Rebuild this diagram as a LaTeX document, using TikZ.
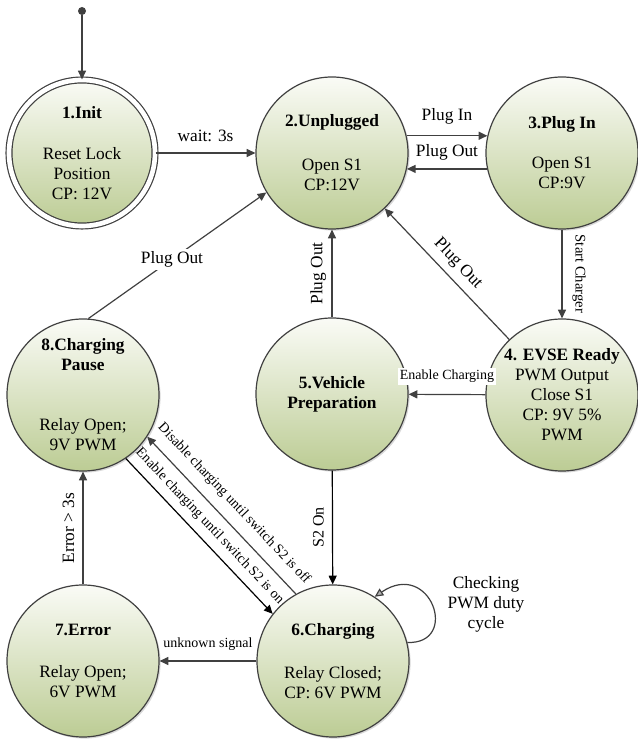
\documentclass[tikz,border=0pt]{standalone}
\usepackage{fontspec}
\setmainfont{Liberation Serif}
\usepackage{tikz}
\usetikzlibrary{arrows.meta,shadows}

\definecolor{stTop}{RGB}{250,251,246}
\definecolor{stBot}{RGB}{188,204,148}
\definecolor{lnGray}{RGB}{64,64,64}

\begin{document}
\begin{tikzpicture}[x=0.75pt, y=0.75pt,
    state/.style = {circle, draw=lnGray, line width=0.9pt, minimum size=114pt, inner sep=0pt,
                    top color=stTop, bottom color=stBot, align=center,
                    drop shadow={shadow xshift=1.2pt, shadow yshift=-1.2pt, opacity=0.3},
                    font=\fontsize{13}{15}\selectfont},
    tr/.style  = {draw=lnGray, line width=0.9pt, -{Triangle[length=6.5pt, width=6pt]}},
    trk/.style = {draw=black, line width=0.9pt, -{Triangle[length=6.5pt, width=6pt]}},
    lbl/.style = {font=\fontsize{13}{15}\selectfont, inner sep=2pt},
    sml/.style = {font=\fontsize{10.5}{12}\selectfont, inner sep=1.5pt}]
        \useasboundingbox (0,0) rectangle (637,743);

        % states
        \node[circle, fill=lnGray, minimum size=6pt, inner sep=0pt] (start) at (82,732) {};
        \node[state, minimum size=109.5pt, double, double distance=3.5pt] (n1) at (82,590)
            {\textbf{1.Init}\\[16pt]Reset Lock\\Position\\CP: 12V};
        \node[state] (n2) at (332,590) {\textbf{2.Unplugged}\\[18pt]Open S1\\CP:12V};
        \node[state] (n3) at (562,590) {\textbf{3.Plug In}\\[15pt]Open S1\\CP:9V};
        \node[state] (n4) at (562,348)
            {\textbf{4. EVSE Ready}\\PWM Output\\Close S1\\CP: 9V 5\%\\PWM};
        \node[state] (n5) at (332,349) {\textbf{5.Vehicle}\\\textbf{Preparation}};
        \node[state] (n8) at (83,348)
            {\textbf{8.Charging}\\\textbf{Pause}\\[30pt]Relay Open;\\9V PWM};
        \node[state] (n7) at (83,82) {\textbf{7.Error}\\[17pt]Relay Open;\\6V PWM};
        \node[state] (n6) at (333,82) {\textbf{6.Charging}\\[17pt]Relay Closed;\\CP: 6V PWM};

        % transitions
        \draw[tr] (start) -- (n1);
        \draw[tr] (n1) -- node[lbl, above=6pt] {wait: 3s} (n2);
        \draw[tr] (n2.13) -- node[lbl, above=6pt] {Plug In} (n3.167);
        \draw[tr] (n3.192) -- node[lbl, above=4pt] {Plug Out} (n2.-12);
        \draw[tr] (n3) -- node[sloped, above=4pt, font=\fontsize{11}{13}\selectfont] {Start Charger} (n4);
        \draw[tr] (n4) -- node[lbl, sloped, above=3pt] {Plug Out} (n2);
        \draw[tr] (n4) -- node[sml, above=7pt, fill=white] {Enable Charging} (n5);
        \draw[tr] (n5) -- node[lbl, sloped, above=2pt] {Plug Out} (n2);
        \draw[tr] (n8.86) -- node[lbl, pos=0.47, fill=white] {Plug Out} (n2.211);
        \draw[trk] (n5) -- node[rotate=90, anchor=south, inner sep=6pt, font=\fontsize{12}{14}\selectfont] {S2 On} (n6);
        \draw[trk] (n8.-56) -- node[sml, sloped, above=4pt] {Enable charging until switch S2 is on} (n6.142);
        \draw[tr] (n6.119) -- node[sml, sloped, above=6pt] {Disable charging until switch S2 is off} (n8.-33);
        \draw[tr] (n7) -- node[lbl, sloped, above=4pt] {Error > 3s} (n8);
        \draw[tr] (n6) -- node[sml, above=6pt] {unknown signal} (n7);
        \draw[draw=lnGray, line width=0.9pt, -{Triangle[length=6.5pt, width=6pt, fill=black!30]}]
            (n6.14) .. controls +(53,-2) and +(56,38) .. (n6.57);
        \node[lbl, align=center] (chk) at (486,139) {Checking\\PWM duty\\cycle};
\end{tikzpicture}
\end{document}
